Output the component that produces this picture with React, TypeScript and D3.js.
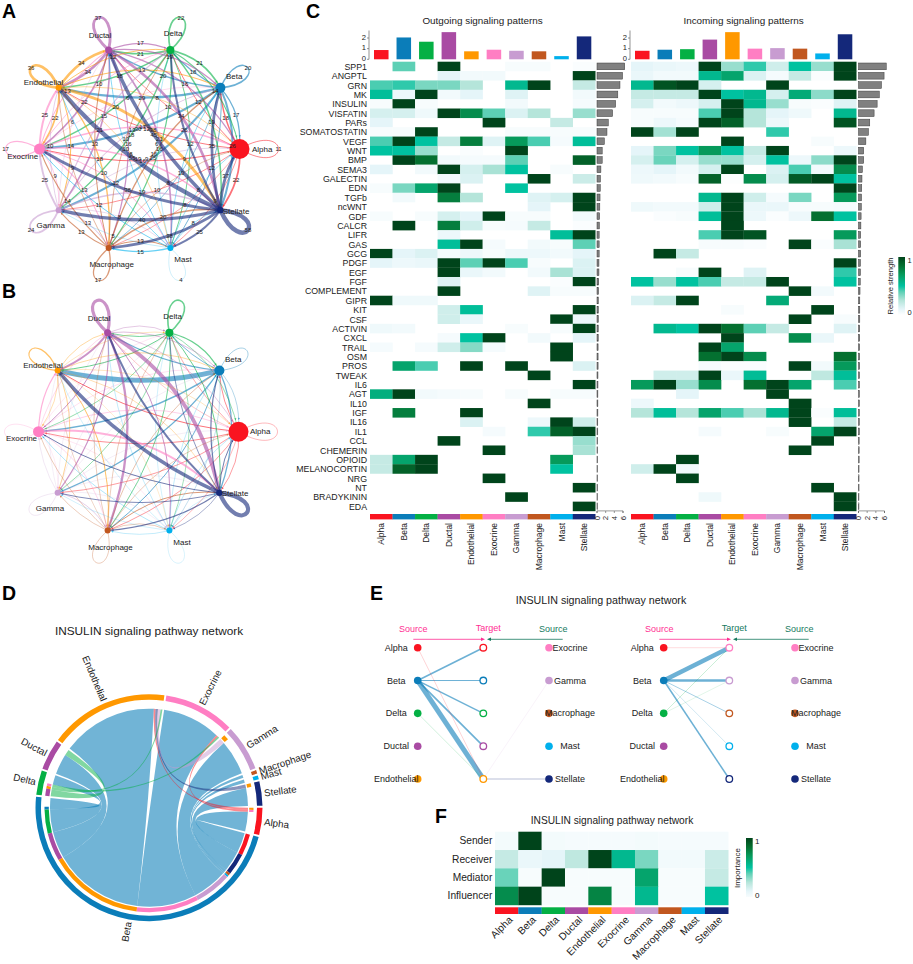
import React from "react";
import * as d3 from "d3";

const cells = ["Alpha","Beta","Delta","Ductal","Endothelial","Exocrine","Gamma","Macrophage","Mast","Stellate"];
const cellColors = ["#FA1420","#0B7DB9","#04B044","#A94BA3","#FF9800","#FF7EC3","#C89CD1","#C1571F","#00B0EC","#14287A"];
const nodeSizes = [10,5,4,3.5,3,5.5,3,3,3,3.2];

const interactionCounts = [
  [11,18,12,10,12,16,10,8,9,22],
  [17,20,18,20,29,30,25,10,12,26],
  [14,21,22,21,18,20,18,16,12,19],
  [16,19,17,37,34,22,21,16,21,34],
  [8,13,12,34,36,22,14,18,8,38],
  [17,6,10,13,25,17,9,13,12,19],
  [9,13,15,6,10,25,24,13,8,19],
  [8,16,10,13,9,14,13,17,13,20],
  [8,9,6,10,10,12,5,15,4,8],
  [37,35,26,45,55,38,40,38,25,58],
];
const interactionWeights = [
  [.5,.8,.6,.4,1,.8,.7,.7,.5,.7],
  [.5,.6,.9,1.2,4.8,1.4,1.2,1,.4,1.3],
  [.7,1.2,1.6,.9,1,.7,.7,.9,.6,1],
  [.5,.6,.5,3.2,2,1,1.1,2.3,1,3.8],
  [.4,.6,.4,.6,1.2,.5,.7,1,.3,.5],
  [.6,.4,.3,.5,1.2,.4,.25,.5,.3,1.8],
  [.3,.3,.3,.3,.3,.4,.4,.8,.3,.3],
  [.5,.6,.5,.5,.4,.5,.5,.5,.5,1],
  [.4,.4,.3,.4,.3,.5,.3,.4,.25,.3],
  [1,1.2,.8,2,3.6,1,.9,1.2,.6,4.2],
];

const pathways = ["SPP1","ANGPTL","GRN","MK","INSULIN","VISFATIN","PARs","SOMATOSTATIN","VEGF","WNT","BMP","SEMA3","GALECTIN","EDN","TGFb","ncWNT","GDF","CALCR","LIFR","GAS","GCG","PDGF","EGF","FGF","COMPLEMENT","GIPR","KIT","CSF","ACTIVIN","CXCL","TRAIL","OSM","PROS","TWEAK","IL6","AGT","IL10","IGF","IL16","IL1","CCL","CHEMERIN","OPIOID","MELANOCORTIN","NRG","NT","BRADYKININ","EDA"];
const outgoing = [
  [0,.4,0,1,0,0,.03,.03,0,.02],
  [0,0,0,.1,.05,.05,0,0,0,1],
  [.42,.45,.35,.35,.25,0,.55,1,0,.2],
  [.52,.07,1,.05,.1,0,.12,0,0,.05],
  [.03,1,.03,0,0,0,.05,0,0,.04],
  [.15,.15,.06,1,.75,.4,.13,.25,0,.3],
  [.1,0,0,0,0,1,0,0,.2,0],
  [.03,.03,1,0,0,0,.03,.03,.03,.03],
  [.42,1,.5,.2,.8,.12,.7,.42,.04,.52],
  [.5,.5,.3,0,.02,0,1,0,0,0],
  [0,1,.85,.05,.04,.04,.4,0,0,.9],
  [.1,0,.05,1,.15,.27,.5,0,.03,0],
  [0,0,0,.05,.13,0,0,1,0,.18],
  [.03,.35,.65,1,0,0,.5,0,0,0],
  [0,.05,0,.8,.25,0,0,.12,.15,1],
  [0,0,0,0,0,0,0,.1,0,1],
  [.03,0,.03,.15,.1,1,.03,.03,0,.05],
  [0,1,0,.8,.17,.03,.04,.2,0,.02],
  [0,0,0,.07,0,0,0,0,.52,1],
  [0,0,0,.52,1,.04,0,.05,.03,.4],
  [1,.1,.13,.04,.07,.03,.07,.07,.05,.1],
  [.1,.07,.08,1,.4,1,.42,.03,0,.13],
  [0,0,0,1,.08,.05,0,.05,.27,.13],
  [0,0,0,.12,0,0,0,0,.02,1],
  [0,0,0,1,0,0,0,.12,.03,.03],
  [1,.06,.06,0,0,0,0,0,0,0],
  [0,0,0,.17,.52,0,0,0,0,1],
  [0,0,0,.17,.08,0,0,0,1,.07],
  [.06,.05,0,0,0,0,.03,0,.03,1],
  [0,0,0,.04,.5,1,0,.05,0,.1],
  [.04,0,.04,.17,.33,.04,0,0,1,0],
  [0,0,0,0,0,0,0,0,1,0],
  [0,.65,.42,0,1,0,1,0,0,.13],
  [0,0,0,0,0,0,0,1,0,0],
  [0,0,0,0,0,0,0,0,0,1],
  [.6,1,.05,.04,.03,0,.03,0,.03,.03],
  [0,0,0,0,0,0,0,1,0,0],
  [0,.8,0,0,1,0,0,0,0,0],
  [0,0,0,0,.13,0,0,.07,1,.17],
  [0,0,0,0,0,.04,0,.45,.9,1],
  [0,0,0,1,0,0,0,0,0,.3],
  [0,0,0,0,0,1,0,0,0,.27],
  [.2,.65,1,0,0,0,0,0,.7,0],
  [.2,.9,1,0,0,0,0,0,.5,0],
  [0,0,0,0,0,1,0,0,0,0],
  [0,0,0,0,0,0,0,0,0,1],
  [0,0,0,0,0,0,1,0,0,0],
  [0,0,0,0,0,0,0,0,0,1],
];
const incoming = [
  [.1,.08,.07,1,.3,.45,.17,.5,.3,1],
  [.08,.05,.05,.55,.65,.13,.04,.2,.02,1],
  [.55,.95,1,.15,0,0,1,0,0,0],
  [.2,.2,.2,1,.5,.55,.15,.62,.32,1],
  [.15,.05,.07,.15,1,.55,.3,.03,.02,.12],
  [.03,.03,.03,.42,1,.25,.1,.06,0,.55],
  [.03,.07,.04,1,.9,.25,.07,0,0,.95],
  [1,.28,1,0,0,0,.45,0,0,0],
  [0,0,0,0,1,0,0,0,.03,0],
  [.1,.35,.5,.7,.5,.2,1,0,0,.07],
  [.15,.38,.15,.3,.3,.15,.5,.07,.32,1],
  [.07,.1,.05,.15,1,0,.13,.42,.05,.75],
  [.06,.05,.03,.9,.01,.75,.15,.92,1,.5],
  [0,0,0,0,0,0,0,0,0,1],
  [0,0,0,.55,1,.17,.04,.35,0,.7],
  [.06,.05,.05,.17,1,.08,.08,.03,.03,.04],
  [0,.02,.03,.52,1,.07,.02,.07,.85,.5],
  [0,0,0,0,1,0,0,0,0,0],
  [0,0,0,.42,1,.95,0,0,0,.7],
  [0,0,0,.03,.03,.02,0,1,.02,.27],
  [0,1,.2,0,0,0,0,0,0,0],
  [0,0,0,0,0,0,0,0,0,1],
  [0,0,.03,1,0,.12,0,0,0,.45],
  [.5,.3,.5,.42,.2,.2,1,0,0,.5],
  [0,0,0,0,0,0,0,1,.05,0],
  [.13,.2,1,0,0,0,.62,0,0,0],
  [0,0,0,0,.03,0,0,0,1,0],
  [0,0,0,0,0,0,0,1,0,.03],
  [0,.55,.5,1,.85,.4,.2,0,0,.12],
  [0,0,0,0,1,0,0,.75,.08,0],
  [0,0,0,1,.65,0,0,0,0,0],
  [0,0,0,.85,1,.75,0,0,0,.85],
  [0,0,0,.04,.02,.02,0,1,.05,.7],
  [0,.17,.17,1,.08,.53,0,0,.22,.52],
  [.7,1,.3,.75,0,.85,1,.65,0,.42],
  [0,0,.1,0,0,0,1,0,0,0],
  [.07,0,0,0,0,0,0,1,0,0],
  [.25,.52,.25,.65,.42,.27,.55,1,.02,.52],
  [0,0,0,0,0,0,0,1,0,.2],
  [0,0,0,.04,0,0,.03,0,.65,1],
  [0,0,0,0,0,0,0,0,1,0],
  [0,0,0,0,0,0,0,1,0,0],
  [0,0,1,0,0,0,0,0,0,0],
  [.17,1,.05,0,0,0,0,0,0,0],
  [0,0,1,0,0,0,0,0,0,0],
  [0,0,0,0,0,0,0,0,1,0],
  [0,0,0,.06,0,0,0,0,0,1],
  [0,0,0,0,0,0,0,0,0,1],
];
const pathwayTotals = [6.4,5.9,5.3,4.8,4.3,3.6,2.6,2.3,1.7,1.2,1.2,.9,.8,.75,.7,.65,.6,.55,.5,.5,.5,.45,.45,.4,.35,.3,.3,.3,.28,.28,.25,.25,.25,.22,.22,.2,.2,.2,.18,.18,.15,.15,.15,.12,.12,.12,.1,.1];
const outgoingTotals = [.87,2.05,1.65,2.55,.75,.9,.8,.75,.3,2.15];
const incomingTotals = [.8,.9,.95,1.85,2.55,1.0,1.05,1.0,.55,2.35];

// [source, target, width at source, width at target]: Panel D chord
const chordLinks: [string,string,number,number][] = [
  ["Beta","Alpha",12,11.5],["Beta","Stellate",12,10.5],["Beta","Macrophage",1.5,1.8],["Beta","Mast",1,2],
  ["Beta","Gamma",20.5,20.5],["Beta","Exocrine",34.7,34],["Beta","Endothelial",53,56],["Beta","Ductal",15.6,12],
  ["Beta","Delta",13.4,5.5],["Beta","Beta",1.5,5],["Alpha","Endothelial",1.2,1],["Alpha","Exocrine",1.2,1.2],
  ["Stellate","Endothelial",2,1.4],["Gamma","Endothelial",3,1.6],["Delta","Endothelial",1.5,1],["Delta","Exocrine",1.5,1],["Delta","Ductal",4,3.5],
];
const chordSlots: Record<string,string[]> = {
  Alpha:["Alpha>Endothelial","Alpha>Exocrine","Beta>Alpha"],
  Beta:["Beta>Alpha","Beta>Stellate","Beta>Macrophage","Beta>Mast","Beta>Gamma","Beta>Exocrine","Beta>Endothelial","Beta>Ductal","Beta>Delta","Beta>Beta","Beta>Beta"],
  Delta:["Delta>Ductal","Delta>Endothelial","Delta>Exocrine","Beta>Delta"],
  Ductal:["Beta>Ductal","Delta>Ductal"],
  Endothelial:["Beta>Endothelial","Alpha>Endothelial","Stellate>Endothelial","Gamma>Endothelial","Delta>Endothelial"],
  Exocrine:["Beta>Exocrine","Alpha>Exocrine","Delta>Exocrine"],
  Gamma:["Gamma>Endothelial","Beta>Gamma"],
  Macrophage:["Beta>Macrophage"],
  Mast:["Beta>Mast"],
  Stellate:["Stellate>Endothelial","Beta>Stellate"],
};

// Panel E links: [source, target, weight]
const hierarchyLeft: [string,string,number][] = [
  ["Beta","Alpha",1.6],["Beta","Beta",1],["Beta","Delta",1.4],["Beta","Ductal",1.7],["Beta","Endothelial",5],
  ["Alpha","Endothelial",.6],["Delta","Endothelial",.6],["Gamma","Endothelial",.4],["Stellate","Endothelial",1.4],
];
const hierarchyRight: [string,string,number][] = [
  ["Alpha","Exocrine",.5],["Beta","Exocrine",4.5],["Beta","Gamma",2.6],["Beta","Macrophage",.9],["Beta","Mast",.6],
  ["Beta","Stellate",1.5],["Delta","Exocrine",.7],["Delta","Gamma",.4],
];

const roleNames = ["Sender","Receiver","Mediator","Influencer"];
const roleValues = [
  [.02,1,.02,.01,.01,.01,.02,.01,.01,.01],
  [.2,.07,.1,.22,1,.55,.35,.03,.03,.18],
  [.38,0,1,0,0,0,.65,0,0,.2],
  [.75,1,0,0,.78,0,.55,0,0,.5],
];

const FONT = "'Liberation Sans', Arial, sans-serif";
const TXT = "#222";
const colorStops = [0,.1,.25,.4,.5,.7,.85,1];
const heatColor = d3.scaleLinear<string>().domain(colorStops).range(["#ffffff","#e5f5f9","#b5e5da","#5dd0b5","#00c2a0","#069a5b","#047030","#00441b"]);
const roleColor = d3.scaleLinear<string>().domain(colorStops).range(["#f7fcfd","#e5f5f9","#b5e5da","#5dd0b5","#00c2a0","#069a5b","#047030","#00441b"]);
const colorOf = (n: string) => cellColors[cells.indexOf(n)];

function Gradient({ id, scale }: { id: string; scale: (v: number) => string }) {
  return (
    <linearGradient id={id} x1="0" y1="1" x2="0" y2="0">
      {colorStops.map((s) => <stop key={s} offset={s} stopColor={scale(s)} />)}
    </linearGradient>
  );
}

const LAYOUTS = {
  A: { cx: 139.5, cy: 149, labels: [[252,149,"start"],[226,76,"start"],[173,33,"middle"],[100,35,"middle"],[43.5,82,"middle"],[22.7,156,"middle"],[50.7,225,"middle"],[111.7,264,"middle"],[183,259,"middle"],[236,211,"middle"]] },
  B: { cx: 138.5, cy: 431.7, labels: [[250,431,"start"],[225,359,"start"],[172.5,316,"middle"],[99,318,"middle"],[43,365,"middle"],[21.5,438,"middle"],[50,508,"middle"],[110.5,547,"middle"],[182,542,"middle"],[235,493,"middle"]] },
};

function Network({ layout, matrix, width, showLabels }: { layout: typeof LAYOUTS.A; matrix: number[][]; width: (v: number) => number; showLabels: boolean }) {
  const rx = 100, ry = 104;
  const angle = d3.scaleLinear().domain([0, cells.length]).range([0, 2 * Math.PI]);
  const pts = cells.map((_, i) => ({
    x: layout.cx + rx * Math.cos(angle(i)),
    y: layout.cy - ry * Math.sin(angle(i)),
    dx: Math.cos(angle(i)),
    dy: -Math.sin(angle(i)),
    r: nodeSizes[i],
  }));
  const edges: React.ReactNode[] = [];
  const texts: React.ReactNode[] = [];
  matrix.forEach((row, i) => row.forEach((v, j) => {
    const a = pts[i], b = pts[j];
    const sw = width(v);
    if (i === j) {
      const tipLen = 34 + (a.r > 8 ? 5 : 0);
      const th = (30 * Math.PI) / 180;
      const L = tipLen / (0.75 * Math.cos(th));
      const rot = (t: number) => [a.x + L * (a.dx * Math.cos(t) - a.dy * Math.sin(t)), a.y + L * (a.dx * Math.sin(t) + a.dy * Math.cos(t))];
      const p1 = rot(th), p2 = rot(-th);
      edges.push(<path key={`${i}-${j}`} d={`M${a.x},${a.y}C${p1[0]},${p1[1]} ${p2[0]},${p2[1]} ${a.x},${a.y}`} fill="none" stroke={cellColors[i]} strokeOpacity={0.6} strokeWidth={sw} />);
      if (showLabels) texts.push(<text key={`t${i}-${j}`} x={a.x + a.dx * tipLen} y={a.y + a.dy * tipLen} fontSize={6} textAnchor="middle" dominantBaseline="central" fill="#222">{v}</text>);
      return;
    }
    const dx = b.x - a.x, dy = b.y - a.y;
    const mx = (a.x + b.x) / 2, my = (a.y + b.y) / 2;
    const len = Math.hypot(dx, dy);
    const cx = mx + dy * 0.17 + (6 * len) / 200, cy = my - dx * 0.17 - (10 * len) / 200;
    edges.push(<path key={`${i}-${j}`} d={`M${a.x},${a.y}Q${cx},${cy} ${b.x},${b.y}`} fill="none" stroke={cellColors[i]} strokeOpacity={0.6} strokeWidth={sw} />);
    const t = 1 - (b.r + 0.5) / len;
    const ax = (1 - t) ** 2 * a.x + 2 * t * (1 - t) * cx + t * t * b.x;
    const ay = (1 - t) ** 2 * a.y + 2 * t * (1 - t) * cy + t * t * b.y;
    const tx = b.x - cx, ty = b.y - cy;
    const tl = Math.hypot(tx, ty);
    const ux = tx / tl, uy = ty / tl;
    const s = 2;
    edges.push(<path key={`a${i}-${j}`} d={`M${ax},${ay}L${ax - ux * s - uy * s * 0.5},${ay - uy * s + ux * s * 0.5}L${ax - ux * s + uy * s * 0.5},${ay - uy * s - ux * s * 0.5}Z`} fill={cellColors[i]} fillOpacity={0.7} />);
    if (showLabels) texts.push(<text key={`t${i}-${j}`} x={(mx + cx) / 2} y={(my + cy) / 2} fontSize={6} textAnchor="middle" dominantBaseline="central" fill="#222">{v}</text>);
  }));
  return (
    <g fontFamily={FONT}>
      {edges}
      {pts.map((p, i) => <circle key={i} cx={p.x} cy={p.y} r={p.r} fill={cellColors[i]} />)}
      {texts}
      {cells.map((c, i) => {
        const [x, y, anchor] = layout.labels[i] as [number, number, string];
        return <text key={c} x={x} y={y} fontSize={8} fill={TXT} textAnchor={anchor as any} dominantBaseline="central">{c}</text>;
      })}
    </g>
  );
}

const rowScale = d3.scaleBand<number>().domain(d3.range(pathways.length)).range([61.7, 511]);
const barY = d3.scaleLinear().domain([0, 2]).range([59.3, 38]);
const sideBarScale = (x0: number) => d3.scaleLinear().domain([0, 6]).range([x0, x0 + 26]);

function Heat({ x0, values, totals, title, sideX, showLabels }: { x0: number; values: number[][]; totals: number[]; title: string; sideX: number; showLabels: boolean }) {
  const col = d3.scaleBand<number>().domain(d3.range(cells.length)).range([x0, x0 + 225.3]);
  const side = sideBarScale(sideX);
  return (
    <g fontFamily={FONT}>
      <text x={x0 + 112.5} y={20} fontSize={9.9} textAnchor="middle" dominantBaseline="central" fill={TXT}>{title}</text>
      {totals.map((t, i) => (
        <rect key={i} x={col(i)! + 4} y={barY(t)} width={col.bandwidth() - 8} height={barY(0) - barY(t)} fill={cellColors[i]} />
      ))}
      <path d={`M${x0 - 1},${barY(0)}V30.5`} stroke="#666" strokeWidth={0.7} fill="none" />
      {[0, 1, 2].map((t) => (
        <g key={t}>
          <line x1={x0 - 3} x2={x0 - 1} y1={barY(t)} y2={barY(t)} stroke="#666" strokeWidth={0.7} />
          <text x={x0 - 4} y={barY(t) - 0.8} fontSize={7.6} textAnchor="end" dominantBaseline="central" fill={TXT}>{t}</text>
        </g>
      ))}
      {values.map((row, r) => row.map((v, c) => v > 0 && (
        <rect key={`${r}-${c}`} x={col(c)!} y={rowScale(r)!} width={col.bandwidth() + 0.2} height={rowScale.bandwidth() + 0.2} fill={heatColor(v)} />
      )))}
      {cells.map((c, i) => <rect key={c} x={col(i)!} y={514} width={col.bandwidth() + 0.2} height={5.4} fill={cellColors[i]} />)}
      {cells.map((c, i) => (
        <text key={c} transform={`translate(${col(i)! + col.bandwidth() / 2},523) rotate(-90)`} fontSize={8.5} textAnchor="end" dominantBaseline="central" fill={TXT}>{c}</text>
      ))}
      {showLabels && pathways.map((p, r) => (
        <text key={p} x={x0 - 3} y={rowScale(r)! + rowScale.bandwidth() / 2 + 0.4} fontSize={8.8} textAnchor="end" dominantBaseline="central" fill={TXT}>{p}</text>
      ))}
      {pathwayTotals.map((t, r) => (
        <rect key={r} x={side(0)} y={rowScale(r)! + 1.3} width={side(t) - side(0)} height={rowScale.bandwidth() - 2.6} fill="#808080" stroke="#3a3a3a" strokeWidth={0.5} />
      ))}
      <path d={`M${side(0)},513V510.9H${side(6)}V513`} stroke="#555" strokeWidth={0.6} fill="none" />
      {[0, 2, 4, 6].map((t) => (
        <g key={t}>
          <line x1={side(t)} x2={side(t)} y1={511} y2={513} stroke="#555" strokeWidth={0.6} />
          <text transform={`translate(${side(t)},518) rotate(-90)`} fontSize={7.8} textAnchor="middle" dominantBaseline="central" fill={TXT}>{t}</text>
        </g>
      ))}
    </g>
  );
}

function Chord() {
  const cx = 149, cy = 807.7;
  const gap = 1;
  const linkOf = new Map(chordLinks.map((l) => [`${l[0]}>${l[1]}`, l]));
  const slotWidth = (sector: string, key: string, second: boolean) => {
    const l = linkOf.get(key)!;
    if (l[0] === l[1]) return second ? l[3] : l[2];
    return l[0] === sector ? l[2] : l[3];
  };
  const sizes = cells.map((c) => {
    const seen = new Set<string>();
    return d3.sum(chordSlots[c], (k) => { const s = seen.has(k); seen.add(k); return slotWidth(c, k, s); });
  });
  const k = (360 - gap * cells.length) / d3.sum(sizes);
  const toRad = (d: number) => (d * Math.PI) / 180;
  const sectors: { name: string; start: number; end: number }[] = [];
  const spans = new Map<string, { out?: [number, number]; in?: [number, number] }>();
  let cursor = 90;
  cells.forEach((c, i) => {
    const start = cursor;
    const seen = new Set<string>();
    let p = start;
    chordSlots[c].forEach((key) => {
      const sec = seen.has(key);
      seen.add(key);
      const w = slotWidth(c, key, sec) * k;
      const rec = spans.get(key) || {};
      const l = linkOf.get(key)!;
      if (l[0] === l[1] ? !sec : l[0] === c) rec.out = [p, p + w];
      else rec.in = [p, p + w];
      spans.set(key, rec);
      p += w;
    });
    sectors.push({ name: c, start, end: p });
    cursor = p + gap;
  });
  const ribbon = d3.ribbon<any, any>().radius(99);
  const outer = d3.arc<any>().innerRadius(108).outerRadius(113.5);
  const track = d3.arc<any>().innerRadius(100.2).outerRadius(104.5);
  return (
    <g fontFamily={FONT} transform={`translate(${cx},${cy})`}>
      {chordLinks.map((l) => {
        const s = spans.get(`${l[0]}>${l[1]}`)!;
        const d = ribbon({
          source: { startAngle: toRad(s.out![0]), endAngle: toRad(s.out![1]) },
          target: { startAngle: toRad(s.in![0]), endAngle: toRad(s.in![1]) },
        }) as unknown as string;
        return <path key={`${l[0]}${l[1]}`} d={d} fill={colorOf(l[0])} fillOpacity={l[0] === "Beta" ? 0.58 : 0.5} stroke="none" />;
      })}
      {chordLinks.map((l) => {
        const s = spans.get(`${l[0]}>${l[1]}`)!;
        return <path key={`t${l[0]}${l[1]}`} d={track({ startAngle: toRad(s.out![0]), endAngle: toRad(s.out![1]) }) as string} fill={colorOf(l[1])} />;
      })}
      {sectors.map((s) => (
        <path key={s.name} d={outer({ startAngle: toRad(s.start), endAngle: toRad(s.end) }) as string} fill={colorOf(s.name)} />
      ))}
      {sectors.map((s) => {
        const mid = (s.start + s.end) / 2;
        const a = mid % 360;
        const right = a < 180;
        const px = 116 * Math.sin(toRad(a)), py = -116 * Math.cos(toRad(a));
        return (
          <text key={s.name} transform={`translate(${px},${py}) rotate(${right ? a - 90 : a + 90})`} fontSize={9.8} textAnchor={right ? "start" : "end"} dominantBaseline="central" fill={TXT}>{s.name}</text>
        );
      })}
    </g>
  );
}

function Hierarchy({ dx, targets, links, sources2, targetTitle }: { dx: number; targets: string[]; links: [string,string,number][]; sources2: string[]; targetTitle: string }) {
  const leftNames = cells.slice(0, 5);
  const rightNames = sources2;
  const y = d3.scalePoint<number>().domain(d3.range(5)).range([647.7, 779]);
  const xs = 417.7 + dx, xt = 483.3 + dx, xr = 549 + dx;
  const pos = (name: string): [number, number] | null => {
    const a = leftNames.indexOf(name);
    if (a >= 0) return [xs, y(a)!];
    const b = rightNames.indexOf(name);
    return b >= 0 ? [xr, y(b)!] : null;
  };
  const pink = "#FF2E93", teal = "#167A5E";
  return (
    <g fontFamily={FONT}>
      <text x={413.3 + dx} y={629} fontSize={9} textAnchor="middle" dominantBaseline="central" fill={pink}>Source</text>
      <text x={488.3 + dx} y={628} fontSize={9} textAnchor="middle" dominantBaseline="central" fill={targetTitle}>Target</text>
      <text x={553.3 + dx} y={629} fontSize={9} textAnchor="middle" dominantBaseline="central" fill={teal}>Source</text>
      <line x1={413.3 + dx} x2={482 + dx} y1={639.3} y2={639.3} stroke={pink} strokeWidth={0.8} />
      <path d={`M${485 + dx},639.3l-4,-1.8v3.6Z`} fill={pink} />
      <line x1={490 + dx} x2={562.7 + dx} y1={639.3} y2={639.3} stroke={teal} strokeWidth={0.8} />
      <path d={`M${487 + dx},639.3l4,-1.8v3.6Z`} fill={teal} />
      {links.map(([s, t, w]) => {
        const p = pos(s)!;
        const ty = y(targets.indexOf(t))!;
        return <line key={s + t} x1={p[0]} y1={p[1]} x2={xt} y2={ty} stroke={colorOf(s)} strokeWidth={w} strokeOpacity={w < 0.8 ? 0.3 : w < 1 ? 0.4 : s === "Stellate" ? 0.2 : 0.6} />;
      })}
      {leftNames.map((n, i) => <circle key={n} cx={xs} cy={y(i)!} r={3.8} fill={colorOf(n)} />)}
      {rightNames.map((n, i) => <circle key={n} cx={xr} cy={y(i)!} r={3.8} fill={colorOf(n)} />)}
      {targets.map((n, i) => <circle key={n} cx={xt} cy={y(i)!} r={3.3} fill="#fff" stroke={colorOf(n)} strokeWidth={1.3} />)}
      {leftNames.map((n, i) => <text key={n} x={396.3 + dx} y={y(i)!} fontSize={9} textAnchor="middle" dominantBaseline="central" fill={TXT}>{n}</text>)}
      {rightNames.map((n, i) => <text key={n} x={570 + dx} y={y(i)!} fontSize={9} textAnchor="middle" dominantBaseline="central" fill={TXT}>{n}</text>)}
    </g>
  );
}

function Roles() {
  const col = d3.scaleBand<number>().domain(d3.range(cells.length)).range([495, 728.3]);
  const row = d3.scaleBand<number>().domain(d3.range(roleNames.length)).range([831.7, 905]);
  return (
    <g fontFamily={FONT}>
      <text x={612} y={820.7} fontSize={10.2} textAnchor="middle" dominantBaseline="central" fill={TXT}>INSULIN signaling pathway network</text>
      {roleValues.map((r, i) => r.map((v, j) => (
        <rect key={`${i}-${j}`} x={col(j)!} y={row(i)!} width={col.bandwidth() + 0.2} height={row.bandwidth() + 0.2} fill={roleColor(v)} />
      )))}
      {roleNames.map((n, i) => <text key={n} x={492.3} y={row(i)! + row.bandwidth() / 2} fontSize={10.2} textAnchor="end" dominantBaseline="central" fill={TXT}>{n}</text>)}
      {cells.map((c, i) => <rect key={c} x={col(i)!} y={907.3} width={col.bandwidth() + 0.2} height={6.7} fill={cellColors[i]} />)}
      {cells.map((c, i) => (
        <text key={c} transform={`translate(${col(i)! + col.bandwidth() / 2 + 4},918) rotate(-45)`} fontSize={10.2} textAnchor="end" dominantBaseline="central" fill={TXT}>{c}</text>
      ))}
      <rect x={746} y={838} width={6.7} height={59} fill="url(#gradRole)" />
      <text x={755} y={841} fontSize={8} dominantBaseline="central" fill={TXT}>1</text>
      <text x={755} y={895} fontSize={8} dominantBaseline="central" fill={TXT}>0</text>
      <text transform="translate(737.7,868) rotate(-90)" fontSize={8} textAnchor="middle" dominantBaseline="central" fill={TXT}>Importance</text>
    </g>
  );
}

const panelLetters: [string, number, number][] = [["A",2,18],["B",2,298],["C",306,18],["D",2,600],["E",370,600],["F",435,823]];

export default function App() {
  const countWidth = d3.scaleLinear().domain([0, 58]).range([0, 4.5]);
  const weightWidth = d3.scaleLinear().domain([0, 4.5]).range([0, 4.5]);
  return (
    <svg width={913} height={964} viewBox="0 0 913 964" style={{ position: "absolute", left: 0, top: 0, background: "#fff" }}>
      <defs>
        <Gradient id="gradHeat" scale={heatColor} />
        <Gradient id="gradRole" scale={roleColor} />
      </defs>
      {panelLetters.map(([l, x, y]) => <text key={l} x={x} y={y} fontFamily={FONT} fontWeight="bold" fontSize={19.5} fill="#000">{l}</text>)}
      <Network layout={LAYOUTS.A} matrix={interactionCounts} width={countWidth} showLabels />
      <Network layout={LAYOUTS.B} matrix={interactionWeights} width={weightWidth} showLabels={false} />
      <Heat x0={370} values={outgoing} totals={outgoingTotals} title="Outgoing signaling patterns" sideX={597} showLabels />
      <Heat x0={631} values={incoming} totals={incomingTotals} title="Incoming signaling patterns" sideX={858.5} showLabels={false} />
      <g fontFamily={FONT}>
        <rect x={898.3} y={257} width={6.7} height={58} fill="url(#gradHeat)" />
        <text x={907.5} y={260} fontSize={7.5} dominantBaseline="central" fill={TXT}>1</text>
        <text x={907.5} y={312} fontSize={7.5} dominantBaseline="central" fill={TXT}>0</text>
        <text transform="translate(890.7,286) rotate(-90)" fontSize={7.6} textAnchor="middle" dominantBaseline="central" fill={TXT}>Relative strength</text>
        <text x={149} y={630.7} fontSize={11.8} textAnchor="middle" dominantBaseline="central" fill={TXT}>INSULIN signaling pathway network</text>
        <text x={601} y={600} fontSize={10.7} textAnchor="middle" dominantBaseline="central" fill={TXT}>INSULIN signaling pathway network</text>
      </g>
      <Chord />
      <Hierarchy dx={0} targets={cells.slice(0, 5)} links={hierarchyLeft} sources2={cells.slice(5)} targetTitle="#FF2E93" />
      <Hierarchy dx={246} targets={cells.slice(5)} links={hierarchyRight} sources2={cells.slice(5)} targetTitle="#167A5E" />
      <Roles />
    </svg>
  );
}
